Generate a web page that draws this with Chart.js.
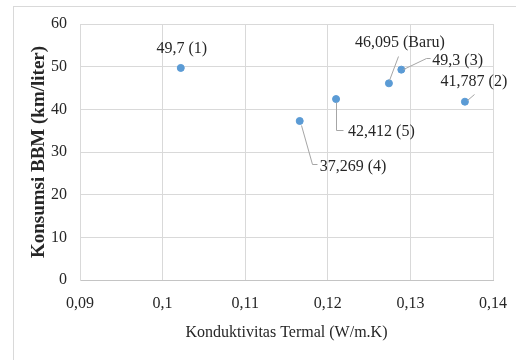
<!DOCTYPE html>
<html>
<head>
<meta charset="utf-8">
<script src="https://cdn.jsdelivr.net/npm/chart.js@4/dist/chart.umd.min.js"></script>
<style>
  body { margin: 0; background: #fff; }
  #wrap { width: 516px; height: 360px; }
</style>
</head>
<body>
<div id="wrap"><canvas id="chart" width="516" height="360"></canvas></div>
<script>
// data
const sampel = ['1', '2', '3', '4', '5', 'Baru'];
const konduktivitas = [0.1022, 0.1366, 0.1289, 0.1166, 0.1210, 0.1274];
const konsumsi = [49.7, 41.787, 49.3, 37.269, 42.412, 46.095];

const xTicks = [0.09, 0.10, 0.11, 0.12, 0.13, 0.14];
const yTicks = [0, 10, 20, 30, 40, 50, 60];

const FONT = "'Liberation Serif', 'Times New Roman', serif";
const TEXT = '#262626';

const fmt = v => String(Number(v.toFixed(3))).replace('.', ',');

// where each data label sits relative to its point, plus its leader line
const labelPos = [
  { dx: 1, dy: -19, align: 'center', leader: [] },
  { dx: 9, dy: -20, align: 'center', leader: [[2, -2], [9, -8]] },
  { dx: 31, dy: -9, align: 'left', leader: [[2, -1], [25, -12], [29, -12]] },
  { dx: 20, dy: 46, align: 'left', leader: [[1, 4], [12, 43], [17, 43]] },
  { dx: 12, dy: 33, align: 'left', leader: [[0, 3], [0, 31], [7, 31]] },
  { dx: 11, dy: -41, align: 'center', leader: [[0, -3], [9, -27]] }
];

const frame = {
  id: 'frame',
  beforeDraw(chart) {
    const ctx = chart.ctx;
    ctx.save();
    ctx.fillStyle = '#fff';
    ctx.fillRect(0, 0, chart.width, chart.height);
    ctx.strokeStyle = '#d9d9d9';
    ctx.lineWidth = 1;
    ctx.strokeRect(13.5, 6.5, 700, 700);
    ctx.restore();
  }
};

const dataLabels = {
  id: 'dataLabels',
  afterDatasetsDraw(chart) {
    const ctx = chart.ctx;
    const meta = chart.getDatasetMeta(0);
    ctx.save();
    meta.data.forEach((pt, i) => {
      const p = labelPos[i];
      if (p.leader.length) {
        ctx.strokeStyle = '#a6a6a6';
        ctx.lineWidth = 1;
        ctx.beginPath();
        p.leader.forEach(([lx, ly], k) => {
          const px = Math.round(pt.x + lx) + 0.5;
          const py = Math.round(pt.y + ly) + 0.5;
          if (k === 0) ctx.moveTo(px, py); else ctx.lineTo(px, py);
        });
        ctx.stroke();
      }
      ctx.fillStyle = TEXT;
      ctx.font = '16px ' + FONT;
      ctx.textAlign = p.align;
      ctx.textBaseline = 'middle';
      ctx.fillText(fmt(konsumsi[i]) + ' (' + sampel[i] + ')', pt.x + p.dx, pt.y + p.dy);
    });
    ctx.restore();
  }
};

new Chart(document.getElementById('chart'), {
  type: 'scatter',
  data: {
    datasets: [{
      data: konduktivitas.map((x, i) => ({ x: x, y: konsumsi[i] })),
      backgroundColor: '#5b9bd5',
      borderColor: '#5b9bd5',
      pointRadius: 3.5,
      pointHoverRadius: 3.5
    }]
  },
  options: {
    responsive: false,
    animation: false,
    layout: { padding: { top: 24, right: 23, left: 0, bottom: 0 } },
    plugins: {
      legend: { display: false },
      tooltip: { enabled: false }
    },
    scales: {
      x: {
        type: 'linear',
        min: xTicks[0],
        max: xTicks[xTicks.length - 1],
        afterBuildTicks: axis => { axis.ticks = xTicks.map(v => ({ value: v })); },
        afterFit: axis => {
          axis.height = 80;
          axis.paddingLeft = 0;
          axis.paddingRight = 0;
        },
        grid: { color: '#d9d9d9', drawTicks: false },
        border: { color: '#c4c4c4' },
        ticks: {
          padding: 14,
          color: TEXT,
          font: { family: FONT, size: 16 },
          callback: v => String(Number(v.toFixed(2))).replace('.', ',')
        },
        title: {
          display: true,
          text: 'Konduktivitas Termal (W/m.K)',
          color: TEXT,
          font: { family: FONT, size: 16 },
          padding: { top: 0, bottom: 18 }
        }
      },
      y: {
        min: yTicks[0],
        max: yTicks[yTicks.length - 1],
        afterBuildTicks: axis => { axis.ticks = yTicks.map(v => ({ value: v })); },
        afterFit: axis => {
          axis.width = 80;
          axis.paddingTop = 0;
          axis.paddingBottom = 0;
        },
        grid: { color: '#d9d9d9', drawTicks: false },
        border: { color: '#d9d9d9' },
        ticks: {
          padding: 13,
          color: TEXT,
          font: { family: FONT, size: 16 }
        },
        title: {
          display: true,
          text: 'Konsumsi BBM (km/liter)',
          color: TEXT,
          font: { family: FONT, size: 19, weight: 'bold' },
          padding: { top: 28, bottom: 0 }
        }
      }
    }
  },
  plugins: [frame, dataLabels]
});
</script>
</body>
</html>
